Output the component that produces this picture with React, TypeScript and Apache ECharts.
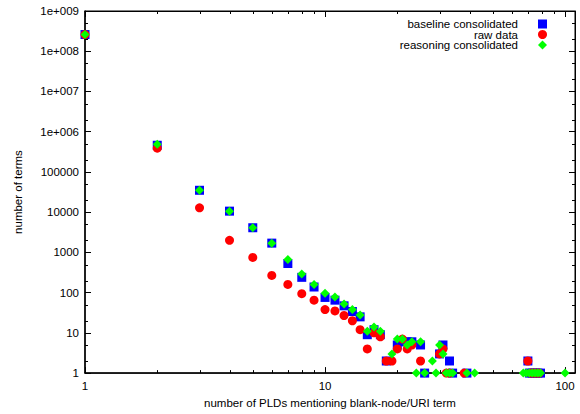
import React, { useEffect, useRef } from 'react';
import * as echarts from 'echarts';

const seriesNames = ['baseline consolidated', 'raw data', 'reasoning consolidated'];

const baselineX = [1, 2, 3, 4, 5, 6, 7, 8, 9, 10, 11, 12, 13, 14, 15, 16, 17, 18, 20, 21, 22, 23, 25, 26, 30, 31, 33, 34, 39, 70, 71, 73, 75, 77, 79];
const baselineY = [2.6e8, 460000, 35000, 10600, 4100, 1700, 530, 240, 138, 76, 65, 47, 34, 25, 9, 12, 9, 2, 5, 6, 6, 6, 5, 1, 3, 5, 2, 1, 1, 2, 1, 1, 1, 1, 1];

const rawX = [1, 2, 3, 4, 5, 6, 7, 8, 9, 10, 11, 12, 13, 14, 15, 16, 17, 18, 19, 20, 21, 22, 23, 25, 30, 31, 32, 33, 38, 70, 72, 74, 76, 78];
const rawY = [2.6e8, 390000, 12800, 2000, 750, 267, 160, 94, 65, 38, 35, 27, 20, 12, 4, 10, 8, 2, 2, 4, 7, 4, 5, 2, 3, 4, 1, 1, 1, 2, 1, 1, 1, 1];

const reasoningX = [1, 2, 3, 4, 5, 6, 7, 8, 9, 10, 11, 12, 13, 14, 15, 16, 17, 19, 20, 21, 22, 23, 24, 25, 26, 28, 29, 30, 31, 32, 33, 34, 39, 42, 67, 69, 71, 73, 75, 77, 79, 100];
const reasoningY = [2.6e8, 490000, 35000, 10600, 4100, 1700, 670, 292, 160, 96, 78, 52, 38, 28, 11, 14, 11, 3, 7, 7, 5, 6, 1, 6, 1, 2, 1, 5, 3, 1, 1, 1, 1, 1, 1, 1, 1, 1, 1, 1, 1, 1];

const xTickLabels = ['1', '10', '100'];
const yTickLabels = ['1', '10', '100', '1000', '10000', '100000', '1e+006', '1e+007', '1e+008', '1e+009'];
const xMinorTicks = [2, 3, 4, 5, 6, 7, 8, 9, 20, 30, 40, 50, 60, 70, 80, 90];
const yMinorTicks = [2, 5, 20, 50, 200, 500, 2000, 5000, 2e4, 5e4, 2e5, 5e5, 2e6, 5e6, 2e7, 5e7, 2e8, 5e8];

const FONT = 'Liberation Sans, Arial, Helvetica, sans-serif';
const FS = 11.5;

function pairs(xs: number[], ys: number[]) {
  return xs.map((x, i) => [x, ys[i]]);
}

function logLabel(labels: string[]) {
  return (v: number) => {
    const e = Math.log10(v);
    const r = Math.round(e);
    if (Math.abs(e - r) > 1e-6) return '';
    return labels[r] ?? '';
  };
}

export default function App() {
  const ref = useRef<HTMLDivElement>(null);
  useEffect(() => {
    if (!ref.current) return;
    const chart = echarts.init(ref.current, null, { renderer: 'svg' });
    const tickStyle = { color: '#000', width: 1 };
    const axisCommon = {
      type: 'log' as const,
      logBase: 10,
      splitLine: { show: false },
      minorTick: { show: false },
    };
    const legendCommon = (name: string, top: number) => ({
      data: [name],
      orient: 'horizontal',
      align: 'right',
      right: 33,
      top,
      padding: 0,
      itemWidth: 9,
      itemHeight: 9,
      selectedMode: false,
      textStyle: { fontFamily: FONT, fontSize: FS, color: '#000', lineHeight: 10, padding: [0, 15, 0, 0] },
    });
    chart.setOption({
      animation: false,
      backgroundColor: '#fff',
      grid: { left: 85, top: 11, right: 5, bottom: 37, show: true, borderColor: '#000', borderWidth: 1 },
      legend: [
        legendCommon(seriesNames[0], 18),
        legendCommon(seriesNames[1], 28.5),
        legendCommon(seriesNames[2], 39),
      ],
      xAxis: [
        {
          ...axisCommon,
          position: 'bottom',
          min: 1,
          max: 110,
          name: 'number of PLDs mentioning blank-node/URI term',
          nameLocation: 'middle',
          nameGap: 22,
          nameTextStyle: { fontFamily: FONT, fontSize: FS, color: '#000' },
          axisLine: { lineStyle: { color: '#000', width: 1.5 } },
          axisTick: { inside: true, length: 6, lineStyle: tickStyle },
          axisLabel: { formatter: logLabel(xTickLabels), fontFamily: FONT, fontSize: FS, color: '#000', margin: 7 },
        },
        {
          ...axisCommon,
          position: 'top',
          min: 1,
          max: 110,
          axisLine: { lineStyle: { color: '#000', width: 1 } },
          axisTick: { inside: true, length: 6, lineStyle: tickStyle },
          axisLabel: { show: false },
        },
      ],
      yAxis: [
        {
          ...axisCommon,
          position: 'left',
          min: 1,
          max: 1e9,
          name: 'number of terms',
          nameLocation: 'middle',
          nameGap: 61,
          nameTextStyle: { fontFamily: FONT, fontSize: FS, color: '#000' },
          axisLine: { lineStyle: { color: '#000', width: 1.5 } },
          axisTick: { inside: true, length: 6, lineStyle: tickStyle },
          axisLabel: { formatter: logLabel(yTickLabels), fontFamily: FONT, fontSize: FS, color: '#000', margin: 6 },
        },
        {
          ...axisCommon,
          position: 'right',
          min: 1,
          max: 1e9,
          axisLine: { lineStyle: { color: '#000', width: 1 } },
          axisTick: { inside: true, length: 6, lineStyle: tickStyle },
          axisLabel: { show: false },
        },
      ],
      series: [
        {
          type: 'custom',
          name: 'xminor',
          silent: true,
          xAxisIndex: 0,
          yAxisIndex: 0,
          data: xMinorTicks.map((v) => [v, 1]),
          renderItem: (params: any, api: any) => {
            const cs = params.coordSys;
            const p = api.coord([api.value(0), api.value(1)]);
            const x = Math.round(p[0]) + 0.5;
            return {
              type: 'group',
              children: [
                { type: 'line', shape: { x1: x, y1: cs.y + cs.height, x2: x, y2: cs.y + cs.height - 3 }, style: { stroke: '#000', lineWidth: 1 } },
                { type: 'line', shape: { x1: x, y1: cs.y, x2: x, y2: cs.y + 3 }, style: { stroke: '#000', lineWidth: 1 } },
              ],
            };
          },
        },
        {
          type: 'custom',
          name: 'yminor',
          silent: true,
          xAxisIndex: 0,
          yAxisIndex: 0,
          data: yMinorTicks.map((v) => [1, v]),
          renderItem: (params: any, api: any) => {
            const cs = params.coordSys;
            const p = api.coord([api.value(0), api.value(1)]);
            const y = Math.round(p[1]) + 0.5;
            return {
              type: 'group',
              children: [
                { type: 'line', shape: { x1: cs.x, y1: y, x2: cs.x + 3, y2: y }, style: { stroke: '#000', lineWidth: 1 } },
                { type: 'line', shape: { x1: cs.x + cs.width, y1: y, x2: cs.x + cs.width - 3, y2: y }, style: { stroke: '#000', lineWidth: 1 } },
              ],
            };
          },
        },
        {
          type: 'scatter',
          name: seriesNames[0],
          symbol: 'rect',
          symbolSize: 9,
          itemStyle: { color: '#0000ff', opacity: 1 },
          data: pairs(baselineX, baselineY),
        },
        {
          type: 'scatter',
          name: seriesNames[1],
          symbol: 'circle',
          symbolSize: 9,
          itemStyle: { color: '#ff0000', opacity: 1 },
          data: pairs(rawX, rawY),
        },
        {
          type: 'scatter',
          name: seriesNames[2],
          symbol: 'diamond',
          symbolSize: 9,
          itemStyle: { color: '#00ff00', opacity: 1 },
          data: pairs(reasoningX, reasoningY),
        },
      ],
    });
    return () => chart.dispose();
  }, []);
  return <div ref={ref} style={{ width: 580, height: 414, position: 'absolute', left: 0, top: 0 }} />;
}
